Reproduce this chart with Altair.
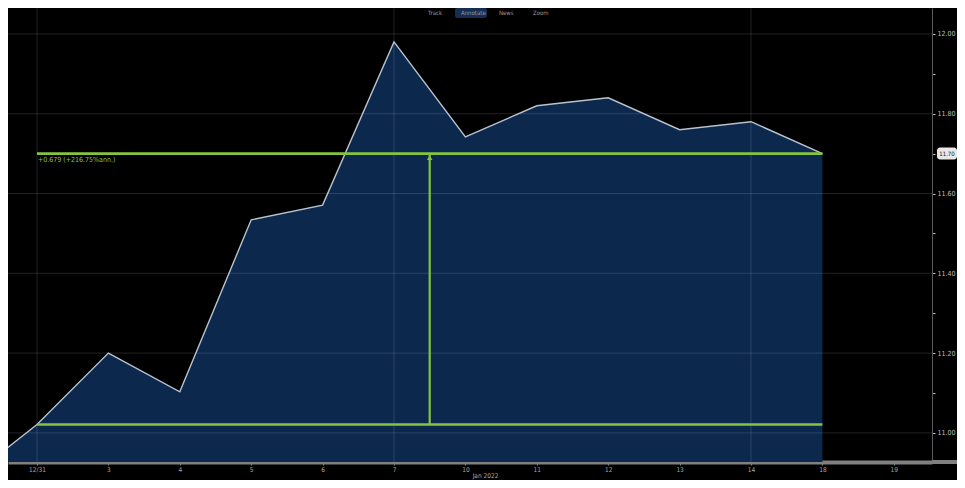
import altair as alt
import pandas as pd

# ---- data ----
point_index = [-1, 0, 1, 2, 3, 4, 5, 6, 7, 8, 9, 10, 11]
point_dates = ["12/30", "12/31", "3", "4", "5", "6", "7", "10", "11", "12", "13", "14", "18"]
point_values = [10.88, 11.021, 11.20, 11.103, 11.534, 11.571, 11.98, 11.742, 11.82, 11.84, 11.76, 11.78, 11.70]

tick_labels = ["12/31", "3", "4", "5", "6", "7", "10", "11", "12", "13", "14", "18", "19"]
y_grid_values = [11.0, 11.2, 11.4, 11.6, 11.8, 12.0]
y_tick_values = [11.0, 11.1, 11.2, 11.3, 11.4, 11.5, 11.6, 11.7, 11.8, 11.9, 12.0]
x_grid_index = [0, 5, 10]

measure_start, measure_end = 0, 11
measure_low, measure_high = 11.021, 11.70
measure_text = "+0.679 (+216.75%ann.)"
last_label = "11.70"
toolbar = ["Track", "Annotate", "News", "Zoom"]

X_DOMAIN = [-0.406, 12.535]
Y_DOMAIN = [10.927, 12.065]
W, H = 924, 454
GREEN = "#86c440"
FONT = "DejaVu Sans Condensed, Liberation Sans, sans-serif"

series = pd.DataFrame({"i": point_index, "date": point_dates, "v": point_values})

label_js = "[" + ",".join("'" + t + "'" for t in tick_labels) + "]"

xs = alt.Scale(domain=X_DOMAIN, nice=False, zero=False)
ys = alt.Scale(domain=Y_DOMAIN, nice=False, zero=False)

x_axis = alt.Axis(
    values=list(range(len(tick_labels))),
    labelExpr=label_js + "[datum.value]",
    grid=False,
    domainColor="#808080", domainWidth=4,
    tickColor="#8a8a8a", tickSize=3, tickWidth=1,
    labelColor="#a8a8a8", labelFontSize=6.5, labelPadding=1,
    labelFont=FONT,
    title="Jan 2022", titleColor="#a8a8a8", titleFontSize=6.5,
    titleFontWeight="normal", titleFont=FONT, titlePadding=0,
    titleX=477, titleAlign="center",
)
y_axis = alt.Axis(
    orient="right",
    values=y_tick_values,
    labelExpr="round(datum.value*10) % 2 == 0 ? format(datum.value, '.2f') : ''",
    grid=False,
    domainColor="#5a5a5a", domainWidth=1,
    tickColor="#bbbbbb", tickSize=3,
    labelColor="#bdbdbd", labelFontSize=7, labelPadding=2,
    labelFont=FONT,
    title=None,
)

area = alt.Chart(series).mark_area(color="#0c284d", clip=True).encode(
    x=alt.X("i:Q", scale=xs, axis=x_axis),
    y=alt.Y("v:Q", scale=ys, axis=y_axis),
)

hgrid = alt.Chart(pd.DataFrame({"g": y_grid_values})).mark_rule(
    color="#ffffff", opacity=0.13, strokeWidth=1
).encode(y=alt.Y("g:Q", scale=ys))

vgrid = alt.Chart(pd.DataFrame({"g": x_grid_index})).mark_rule(
    color="#ffffff", opacity=0.13, strokeWidth=1
).encode(x=alt.X("g:Q", scale=xs))

line = alt.Chart(series).mark_line(color="#b9c3cf", strokeWidth=1.4, clip=True).encode(
    x=alt.X("i:Q", scale=xs),
    y=alt.Y("v:Q", scale=ys),
)

meas = pd.DataFrame({
    "x0": [measure_start, measure_start],
    "x1": [measure_end, measure_end],
    "y": [measure_low, measure_high],
})
hlines = alt.Chart(meas).mark_rule(color=GREEN, strokeWidth=2.6).encode(
    x=alt.X("x0:Q", scale=xs), x2="x1:Q", y=alt.Y("y:Q", scale=ys)
)

vert = pd.DataFrame({
    "xm": [(measure_start + measure_end) / 2],
    "lo": [measure_low], "hi": [measure_high],
    "txt_x": [measure_start], "txt": [measure_text],
})
vline = alt.Chart(vert).mark_rule(color=GREEN, strokeWidth=2.2).encode(
    x=alt.X("xm:Q", scale=xs), y=alt.Y("lo:Q", scale=ys), y2="hi:Q"
)
arrow = alt.Chart(vert).mark_point(
    shape="triangle-up", filled=True, color=GREEN, size=30, opacity=1, yOffset=4
).encode(x=alt.X("xm:Q", scale=xs), y=alt.Y("hi:Q", scale=ys))

mtext = alt.Chart(vert).mark_text(
    align="left", baseline="top", dx=1, dy=2, color=GREEN, fontSize=7, font=FONT
).encode(x=alt.X("txt_x:Q", scale=xs), y=alt.Y("hi:Q", scale=ys), text="txt:N")

last_df = pd.DataFrame({"v": [measure_high], "t": [last_label]})
last_box = alt.Chart(last_df).mark_rect(
    color="#e8e8e8", height=12, cornerRadius=3
).encode(x=alt.value(929), x2=alt.value(949), y=alt.Y("v:Q", scale=ys))
last_txt = alt.Chart(last_df).mark_text(
    color="#111111", fontSize=6, font=FONT
).encode(x=alt.value(939), y=alt.Y("v:Q", scale=ys), text="t:N")

right_band = alt.Chart(last_df).mark_rule(color="#808080", strokeWidth=4).encode(
    x=alt.value(W), x2=alt.value(W + 25), y=alt.value(H)
)

tb = pd.DataFrame({"t": toolbar, "px": [420, 453, 491, 525]})
tb_box = alt.Chart(tb[tb.t == "Annotate"]).mark_rect(
    color="#1b3a66", opacity=0.8, cornerRadius=2
).encode(x=alt.value(447), x2=alt.value(479), y=alt.value(0), y2=alt.value(10))
tb_text = alt.Chart(tb).mark_text(
    align="left", baseline="middle", color="#9a9a9a", fontSize=6, font=FONT
).encode(x=alt.X("px:Q", scale=None), y=alt.value(5), text="t:N")

chart = alt.layer(
    area, hgrid, vgrid, line, hlines, vline, arrow, mtext,
    last_box, last_txt, right_band, tb_box, tb_text
).properties(
    width=W, height=H,
    background="#000000",
    padding={"left": 0, "top": 0, "right": 25, "bottom": 18},
    autosize=alt.AutoSizeParams(type="none"),
).configure_view(stroke=None, fill="#000000")

chart.save("out.html", embed_options={"renderer": "svg", "actions": False})
